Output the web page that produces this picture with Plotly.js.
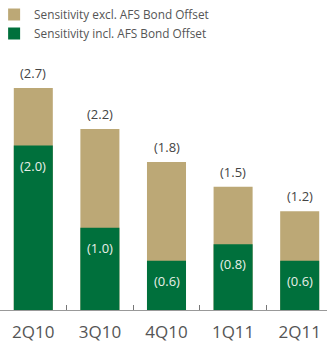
<!DOCTYPE html>
<html><head><meta charset="utf-8">
<script src="https://cdn.plot.ly/plotly-3.0.1.min.js"></script>
<style>html,body{margin:0;padding:0;background:#fff}#c{width:327px;height:343px}</style>
</head><body><div id="c"></div>
<script>
var categories = ['2Q10','3Q10','4Q10','1Q11','2Q11'];
var exclOffset = [2.7, 2.2, 1.8, 1.5, 1.2];
var inclOffset = [2.0, 1.0, 0.6, 0.8, 0.6];
var seriesNames = ['Sensitivity excl. AFS Bond Offset','Sensitivity incl. AFS Bond Offset'];

var tan = 'rgb(188,168,118)', green = 'rgb(0,112,60)';
var traces = [
  {type:'bar', x:categories, y:exclOffset, name:seriesNames[0], marker:{color:tan}, hoverinfo:'none'},
  {type:'bar', x:categories, y:inclOffset, name:seriesNames[1], marker:{color:green}, hoverinfo:'none'}
];
var fmt = function(v){return '(' + v.toFixed(1) + ')';};
var ann = [];
categories.forEach(function(c,i){
  ann.push({x:c, y:exclOffset[i], xref:'x', yref:'y', text:fmt(exclOffset[i]), showarrow:false,
    yanchor:'bottom', yshift:4, font:{family:'Open Sans', size:13, color:'#444'}});
  ann.push({x:c, y:inclOffset[i], xref:'x', yref:'y', text:fmt(inclOffset[i]), showarrow:false,
    yanchor:'top', yshift:-9, font:{family:'Open Sans', size:13, color:'#e8efe8'}});
});
var layout = {
  width:327, height:343,
  margin:{l:0, r:0, t:0, b:33, autoexpand:false},
  barmode:'overlay', bargap:0.414,
  paper_bgcolor:'#fff', plot_bgcolor:'#fff',
  showlegend:true,
  legend:{x:-0.018, xanchor:'left', y:1.0, yanchor:'top', bgcolor:'rgba(0,0,0,0)',
    font:{family:'Open Sans', size:11.8, color:'#555'}, tracegroupgap:0},
  xaxis:{type:'category', range:[-0.5, 4.41], showline:true, linecolor:'#999', linewidth:1,
    ticks:'inside', ticklen:5, tickcolor:'#777', tickwidth:1, tickson:'boundaries', ticklabelstandoff:7,
    tickfont:{family:'Open Sans', size:17, color:'#555'}, showgrid:false, zeroline:false, fixedrange:true},
  yaxis:{range:[0, 3.77], visible:false, showgrid:false, zeroline:false, fixedrange:true},
  annotations:ann
};
Plotly.newPlot('c', traces, layout, {displayModeBar:false, staticPlot:true});
</script></body></html>
